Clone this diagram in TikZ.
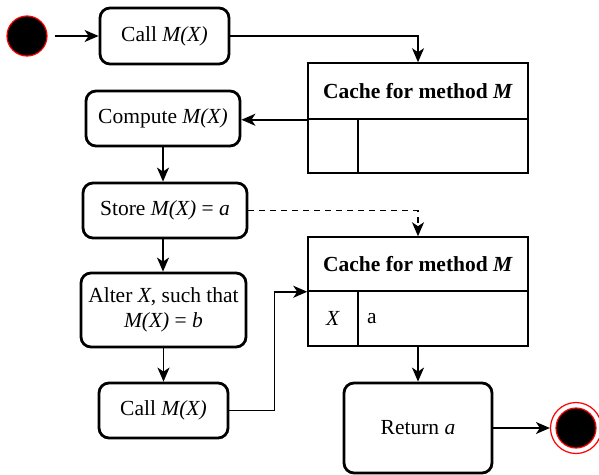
\documentclass[tikz,border=0pt]{standalone}
\usepackage{fontspec}
\setmainfont{Liberation Serif}
\usetikzlibrary{arrows.meta}
\begin{document}
\begin{tikzpicture}[x=1pt,y=-1pt,
  every node/.style={font=\fontsize{21.5}{25}\selectfont},
  act/.style={draw, line width=2.8pt, rounded corners=10pt, align=center, inner sep=0pt},
  cell/.style={draw, line width=1.5pt, inner sep=0pt},
  flow/.style={line width=1.6pt, -{Stealth[length=14pt,width=12pt,inset=4pt]}},
  dflow/.style={flow, dash pattern=on 6pt off 5pt}
]
\useasboundingbox (0,0) rectangle (599,474);

% initial and final states
\node[circle, fill=black, draw=red, line width=1.2pt, minimum size=40pt, inner sep=0pt] (start) at (27,36) {};
\node[circle, draw=red, line width=1.2pt, minimum size=51pt, inner sep=0pt] (stop) at (576,428) {};
\node[circle, fill=black, draw=red, line width=1.2pt, minimum size=40pt, inner sep=0pt] at (576,428) {};

% actions
\node[act, minimum width=129pt, minimum height=56pt] (call1) at (164.5,36) {Call \textit{M(X)}};
\node[act, minimum width=154pt, minimum height=55pt] (compute) at (163,118.5) {Compute \textit{M(X)}};
\node[act, minimum width=164pt, minimum height=55pt] (store) at (165,210.5) {Store \textit{M(X)} = \textit{a}};
\node[act, minimum width=165pt, minimum height=74pt] (alter) at (163.5,310) {Alter \textit{X}, such that\\\textit{M(X)} = \textit{b}};
\node[act, minimum width=129pt, minimum height=55pt] (call2) at (163.5,410.5) {Call \textit{M(X)}};
\node[act, minimum width=148pt, minimum height=90pt] (ret) at (418,428) {Return \textit{a}};

% cache before the value is stored
\node[cell, minimum width=220pt, minimum height=56pt] (c1h) at (418,91) {\textbf{Cache for method \textit{M}}};
\node[cell, minimum width=50pt, minimum height=54pt] (c1k) at (333,146) {};
\node[cell, minimum width=170pt, minimum height=54pt] (c1v) at (443,146) {};

% cache after the value is stored
\node[cell, minimum width=220pt, minimum height=54pt] (c2h) at (418,264) {\textbf{Cache for method \textit{M}}};
\node[cell, minimum width=50pt, minimum height=55pt] (c2k) at (333,318.5) {\textit{X}};
\node[cell, minimum width=170pt, minimum height=55pt] (c2v) at (443,318.5) {};
\node[anchor=west, inner sep=0pt] (c2a) at (367,318.5) {a};

% control flow
\draw[flow, shorten <=7pt] (start.east) -- (call1.west);
\draw[flow] (call1.east) -| (c1h.north);
\draw[flow] (c1h.south west) -- (c1h.south west -| compute.east);
\draw[flow] (compute.south) -- (compute.south |- store.north);
\draw[dflow] (store.east) -| (c2h.north);
\draw[flow] (store.south -| compute.south) -- (compute.south |- alter.north);
\draw[flow] (alter.south) -- (alter.south |- call2.north);
\draw[flow] (call2.east) -- ++(45,0) |- (c2h.south west);
\draw[flow] (c2h.south |- c2v.south) -- (c2h.south |- ret.north);
\draw[flow] (ret.east) -- (stop.west);
\end{tikzpicture}
\end{document}
